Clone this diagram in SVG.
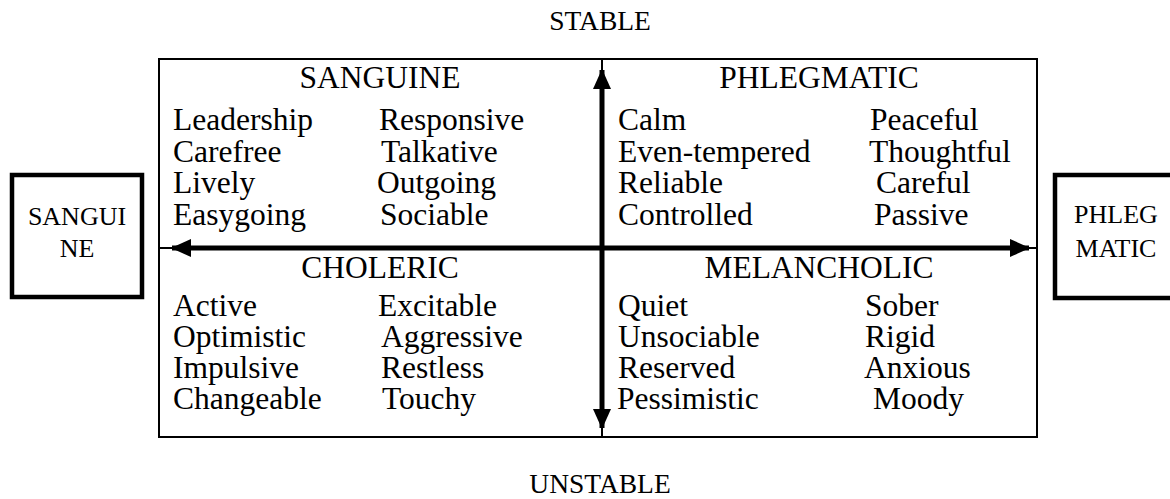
<svg xmlns="http://www.w3.org/2000/svg" width="1170" height="499" viewBox="0 0 1170 499">
<style>
text{font-family:"Liberation Serif","Times New Roman",serif;fill:#000}
.t{font-size:31.5px}
.h{font-size:31.5px;text-anchor:middle}
.s{font-size:26px;text-anchor:middle}
.a{font-size:27.5px;text-anchor:middle}
.box{fill:#fff;stroke:#000;stroke-width:4.5}
.thin{stroke:#000;stroke-width:2;fill:none}
.axis{stroke:#000;stroke-width:5;fill:none}
</style>
<defs>
<marker id="ah" viewBox="0 0 20 18" refX="19" refY="9" markerWidth="20" markerHeight="18" markerUnits="userSpaceOnUse" orient="auto">
<path d="M0,0 L20,9 L0,18 Z" fill="#000"/>
</marker>
</defs>
<g id="frame">
<rect x="159" y="59" width="878" height="378" fill="#fff" stroke="#000" stroke-width="2"/>
</g>
<g id="connectors">
<line class="thin" x1="159" y1="248" x2="1037" y2="248"/>
<line class="thin" x1="602" y1="59" x2="602" y2="437"/>
<line class="axis" x1="602" y1="248" x2="602" y2="70" marker-end="url(#ah)"/>
<line class="axis" x1="602" y1="248" x2="602" y2="428" marker-end="url(#ah)"/>
<line class="axis" x1="602" y1="248" x2="172" y2="248" marker-end="url(#ah)"/>
<line class="axis" x1="602" y1="248" x2="1029" y2="248" marker-end="url(#ah)"/>
</g>
<g id="stable"><text class="a" x="600" y="30">STABLE</text></g>
<g id="unstable"><text class="a" x="600" y="493">UNSTABLE</text></g>
<g id="left-box">
<rect class="box" x="12" y="175" width="130" height="122"/>
<text class="s" x="77" y="225">SANGUI</text>
<text class="s" x="77" y="257">NE</text>
</g>
<g id="right-box">
<rect class="box" x="1055" y="175" width="130" height="123"/>
<text class="s" x="1116" y="223">PHLEG</text>
<text class="s" x="1116" y="257">MATIC</text>
</g>
<g id="sanguine">
<text class="h" x="380" y="88">SANGUINE</text>
<text class="t" x="173" y="130">Leadership</text>
<text class="t" x="379" y="130">Responsive</text>
<text class="t" x="173" y="161.5">Carefree</text>
<text class="t" x="381" y="161.5">Talkative</text>
<text class="t" x="173" y="193">Lively</text>
<text class="t" x="377" y="193">Outgoing</text>
<text class="t" x="173" y="224.5">Easygoing</text>
<text class="t" x="380" y="224.5">Sociable</text>
</g>
<g id="choleric">
<text class="h" x="380" y="278">CHOLERIC</text>
<text class="t" x="173" y="316">Active</text>
<text class="t" x="378" y="316">Excitable</text>
<text class="t" x="173" y="347">Optimistic</text>
<text class="t" x="381" y="347">Aggressive</text>
<text class="t" x="173" y="378">Impulsive</text>
<text class="t" x="381" y="378">Restless</text>
<text class="t" x="173" y="409">Changeable</text>
<text class="t" x="382" y="409">Touchy</text>
</g>
<g id="phlegmatic">
<text class="h" x="819" y="88">PHLEGMATIC</text>
<text class="t" x="618" y="130">Calm</text>
<text class="t" x="870" y="130">Peaceful</text>
<text class="t" x="618" y="161.5">Even-tempered</text>
<text class="t" x="869" y="161.5">Thoughtful</text>
<text class="t" x="618" y="193">Reliable</text>
<text class="t" x="876" y="193">Careful</text>
<text class="t" x="618" y="224.5">Controlled</text>
<text class="t" x="874" y="224.5">Passive</text>
</g>
<g id="melancholic">
<text class="h" x="819" y="278">MELANCHOLIC</text>
<text class="t" x="618" y="316">Quiet</text>
<text class="t" x="865" y="316">Sober</text>
<text class="t" x="618" y="347">Unsociable</text>
<text class="t" x="865" y="347">Rigid</text>
<text class="t" x="618" y="378">Reserved</text>
<text class="t" x="864" y="378">Anxious</text>
<text class="t" x="617" y="409">Pessimistic</text>
<text class="t" x="873" y="409">Moody</text>
</g>
</svg>
